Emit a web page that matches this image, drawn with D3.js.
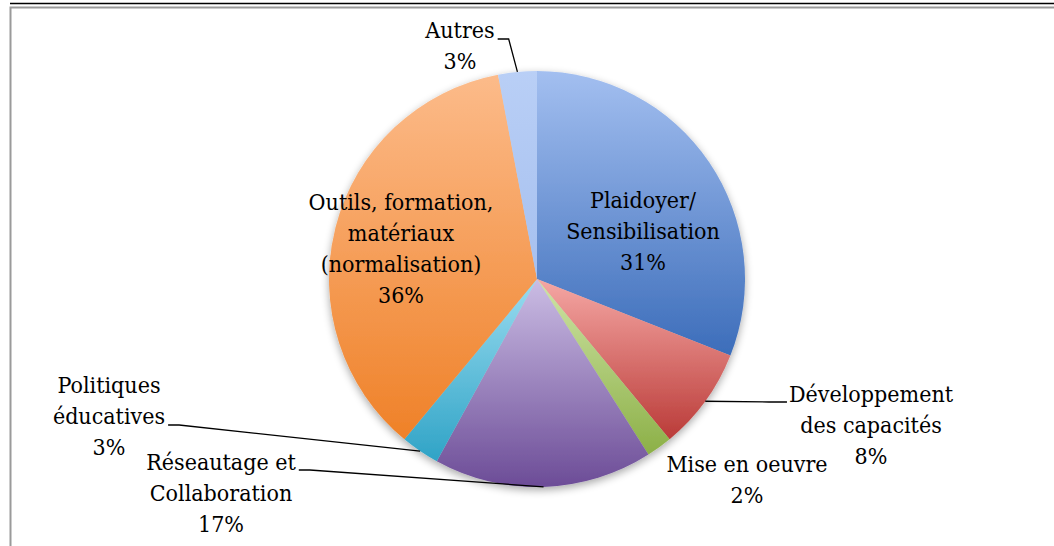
<!DOCTYPE html>
<html>
<head>
<meta charset="utf-8">
<script src="https://cdn.jsdelivr.net/npm/d3@7"></script>
<style>
  body { margin: 0; background: #fff; }
  svg { display: block; }
  .lbl { font-family: "DejaVu Serif Condensed", "DejaVu Serif", serif; font-stretch: condensed; }
</style>
</head>
<body>
<div id="chart"></div>
<script>
// slice data, clockwise from 12 o'clock
const categories = [
  "Plaidoyer/ Sensibilisation",
  "Développement des capacités",
  "Mise en oeuvre",
  "Réseautage et Collaboration",
  "Politiques éducatives",
  "Outils, formation, matériaux (normalisation)",
  "Autres"
];
const values = [31, 8, 2, 17, 3, 36, 3];
const labelLines = [
  ["Plaidoyer/", "Sensibilisation"],
  ["Développement", "des capacités"],
  ["Mise en oeuvre"],
  ["Réseautage et", "Collaboration"],
  ["Politiques", "éducatives"],
  ["Outils, formation,", "matériaux", "(normalisation)"],
  ["Autres"]
];

// gradient top / bottom colours for each slice
const colorTop = ["#a3bff0", "#f5a7a4", "#cfe4a6", "#cbbde4", "#9adcf0", "#fcbb8a", "#b9cff6"];
const colorBottom = ["#3c6dba", "#ba3b38", "#8cb047", "#6c4c97", "#2fa3c6", "#ef8128", "#a6c0ef"];

// label placement (x = centre of text block, y = first baseline)
// leader: which line it starts from and which side of that line
const labelPos = [
  { x: 643, y: 208 },
  { x: 871, y: 402, leader: { line: 0, side: "left", y: 402 } },
  { x: 747, y: 472 },
  { x: 221, y: 470, leader: { line: 0, side: "right", y: 470 } },
  { x: 109, y: 393, leader: { line: 1, side: "right", y: 425 } },
  { x: 401, y: 210 },
  { x: 460, y: 38, leader: { line: 0, side: "right", y: 39 } }
];

const width = 1054, height = 546;
const cx = 537, cy = 279, radius = 208;
const fontSize = 23, lineHeight = 31;

const svg = d3.select("#chart")
  .append("svg")
  .attr("width", width)
  .attr("height", height);

const defs = svg.append("defs");

// soft shadow under the pie
const shadow = defs.append("filter")
  .attr("id", "pie-shadow")
  .attr("x", "-20%").attr("y", "-20%")
  .attr("width", "140%").attr("height", "140%");
shadow.append("feGaussianBlur").attr("in", "SourceAlpha").attr("stdDeviation", 4);
shadow.append("feOffset").attr("dx", 0).attr("dy", 3).attr("result", "off");
shadow.append("feComponentTransfer")
  .append("feFuncA").attr("type", "linear").attr("slope", 0.35);
const merge = shadow.append("feMerge");
merge.append("feMergeNode");
merge.append("feMergeNode").attr("in", "SourceGraphic");

categories.forEach((c, i) => {
  const g = defs.append("linearGradient")
    .attr("id", "grad" + i)
    .attr("x1", 0).attr("y1", 0).attr("x2", 0).attr("y2", 1);
  g.append("stop").attr("offset", "0%").attr("stop-color", colorTop[i]);
  g.append("stop").attr("offset", "100%").attr("stop-color", colorBottom[i]);
});

// page rule and chart frame
svg.append("line")
  .attr("x1", 10).attr("x2", width)
  .attr("y1", 3.5).attr("y2", 3.5)
  .attr("stroke", "#000").attr("stroke-width", 1.5);

svg.append("rect")
  .attr("x", 10.5).attr("y", 7.5)
  .attr("width", width + 50).attr("height", height + 50)
  .attr("fill", "#fff")
  .attr("stroke", "#9a9a9a").attr("stroke-width", 2);

const pie = d3.pie().sort(null).value(d => d)(values);
const arc = d3.arc().innerRadius(0).outerRadius(radius);
const edgeArc = d3.arc().innerRadius(radius).outerRadius(radius);

const plot = svg.append("g").attr("transform", `translate(${cx},${cy})`);

plot.append("g")
  .attr("filter", "url(#pie-shadow)")
  .selectAll("path")
  .data(pie)
  .enter()
  .append("path")
  .attr("d", arc)
  .attr("fill", (d, i) => `url(#grad${i})`);

// labels
const labels = svg.append("g")
  .attr("class", "lbl")
  .style("font-size", fontSize + "px")
  .attr("fill", "#000");

pie.forEach((d, i) => {
  const pos = labelPos[i];
  const lines = labelLines[i].concat([values[i] + "%"]);
  const t = labels.append("text").attr("text-anchor", "middle");
  lines.forEach((line, k) => {
    t.append("tspan")
      .attr("x", pos.x)
      .attr("y", pos.y + k * lineHeight)
      .text(line);
  });

  if (pos.leader) {
    const tsp = t.selectAll("tspan").nodes()[pos.leader.line];
    const w = tsp.getComputedTextLength();
    const sx = pos.leader.side === "left" ? pos.x - w / 2 - 2 : pos.x + w / 2 + 3;
    const hx = pos.leader.side === "left" ? sx - 18 : sx + 11;
    const [ex, ey] = edgeArc.centroid(d);
    svg.append("polyline")
      .attr("points", `${sx},${pos.leader.y} ${hx},${pos.leader.y} ${cx + ex},${cy + ey}`)
      .attr("fill", "none")
      .attr("stroke", "#000")
      .attr("stroke-width", 1.3);
  }
});
</script>
</body>
</html>
